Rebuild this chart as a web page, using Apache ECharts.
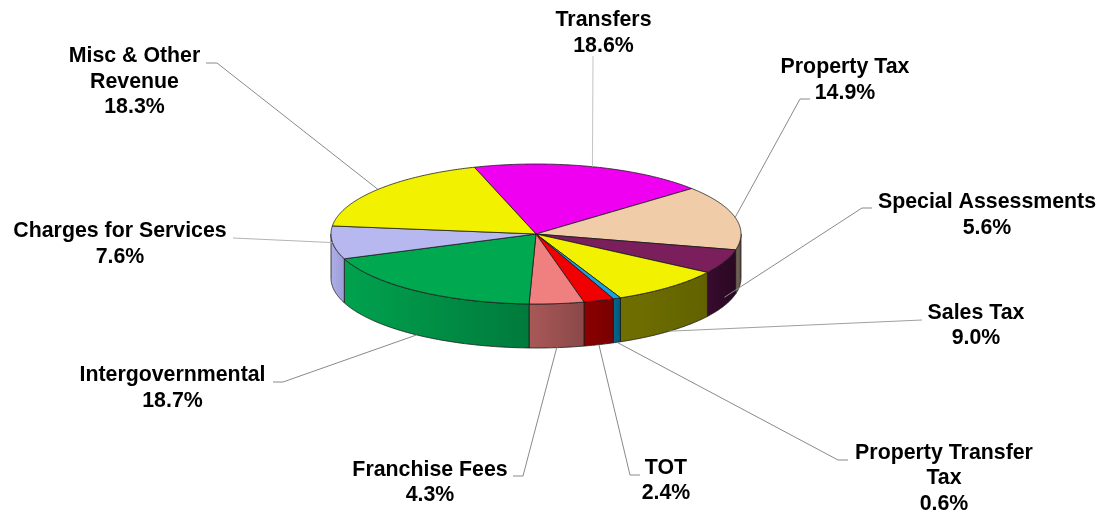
<!DOCTYPE html>
<html>
<head>
<meta charset="utf-8">
<script src="https://cdn.jsdelivr.net/npm/echarts@6/dist/echarts.min.js"></script>
<style>
html,body{margin:0;padding:0;background:#fff;}
#chart{width:1101px;height:512px;}
</style>
</head>
<body>
<div id="chart"></div>
<script>
// ---- data ----
const categories = ['Transfers','Property Tax','Special Assessments','Sales Tax','Property Transfer Tax','TOT','Franchise Fees','Intergovernmental','Charges for Services','Misc & Other Revenue'];
const values = [18.6, 14.9, 5.6, 9.0, 0.6, 2.4, 4.3, 18.7, 7.6, 18.3];
const labelNames = ['Transfers','Property Tax','Special Assessments','Sales Tax','Property Transfer\nTax','TOT','Franchise Fees','Intergovernmental','Charges for Services','Misc & Other\nRevenue'];

// ---- styles / layout ----
const topColors = ['#F000F0','#F0CCA8','#7A1E5C','#F2F200','#18A0E0','#F00000','#F08080','#00A850','#B8B8F0','#F2F200'];
const sideColors = [
  ['#a000a0','#800080'],
  ['#7d6d5c','#5a4c42'],
  ['#380b2e','#2a0822'],
  ['#707000','#626200'],
  ['#006890','#005878'],
  ['#8c0000','#780000'],
  ['#AA5858','#8A4848'],
  ['#00A24E','#007A3C'],
  ['#AEAEE8','#9C9CD8'],
  ['#c8c800','#a8a800']
];
const leaderColors = ['#c4c4c4','#8a8a8a','#8a8a8a','#a0a0a0','#8a8a8a','#8a8a8a','#8a8a8a','#8a8a8a','#b4b4b4','#8a8a8a'];
const labelCenters = [[603.5,33],[845,80],[987,215],[976,325.5],[944,478.5],[666,480.5],[430,482.5],[172.5,388],[120,244],[134.5,82]];
const leaderFrom = [
  [[593,56]],
  [[810,99],[800,99]],
  [[872,208],[862,208]],
  [[922,320]],
  [[848,460],[838,460]],
  [[640,475],[630,475]],
  [[513,476],[523,476]],
  [[273,382],[283,382]],
  [[233,238]],
  [[206,63],[217,63]]
];

const CX = 536, CY = 234, RX = 205, RY = 70, DEPTH = 44, START = 107.5;
const total = values.reduce((a,b)=>a+b,0);
const cum = [];
values.reduce((acc,v,i)=>{cum[i]=acc;return acc+v;},0);

function P(t, dy){
  const r = t*Math.PI/180;
  return [CX + RX*Math.cos(r), CY - RY*Math.sin(r) + (dy||0)];
}
function arcPts(a, b, dy){
  const pts = [];
  const n = Math.max(2, Math.ceil(Math.abs(a-b)/0.5));
  for(let k=0;k<=n;k++){ pts.push(P(a + (b-a)*k/n, dy)); }
  return pts;
}

function renderItem(params, api){
  const i = params.dataIndex;
  const v = api.value(0);
  const t1 = START - cum[i]/total*360;
  const t2 = t1 - v/total*360;
  const children = [];
  const a = Math.min(t1, 0), b = Math.max(t2, -180);
  if (a > b){
    const topEdge = arcPts(a, b, 0);
    const botEdge = arcPts(b, a, DEPTH);
    const xa = P(a)[0], xb = P(b)[0];
    children.push({
      type:'polygon', z2: 1,
      shape:{points: topEdge.concat(botEdge)},
      style:{
        fill:{type:'linear', global:true, x:Math.min(xa,xb), y:0, x2:Math.max(xa,xb), y2:0,
          colorStops:[{offset:0,color:sideColors[i][0]},{offset:1,color:sideColors[i][1]}]},
        stroke:'#1a1a1a', lineWidth:0.8, lineJoin:'round'
      }
    });
  }
  children.push({
    type:'polygon', z2: 5,
    shape:{points: [[CX,CY]].concat(arcPts(t1, t2, 0))},
    style:{fill: topColors[i], stroke:'#1a1a1a', lineWidth:0.8, lineJoin:'round'}
  });
  const mid = (t1+t2)/2;
  const s = -Math.sin(mid*Math.PI/180);
  const f = Math.max(0, Math.min(1, (s-0.15)/0.3));
  const anchor = P(mid, DEPTH*f);
  children.push({
    type:'polyline', z2: 8,
    shape:{points: leaderFrom[i].concat([anchor])},
    style:{stroke:leaderColors[i], lineWidth:1, fill:null}
  });
  const pct = (v/total*100).toFixed(1) + '%';
  children.push({
    type:'text', z2: 10,
    x: labelCenters[i][0], y: labelCenters[i][1],
    style:{
      text: labelNames[i] + '\n' + pct,
      align:'center', verticalAlign:'middle',
      fontFamily:'"Liberation Sans", Arial, sans-serif',
      fontWeight:'bold', fontSize:21.33, lineHeight:25.5,
      fill:'#000'
    }
  });
  return {type:'group', children};
}

const chart = echarts.init(document.getElementById('chart'), null, {renderer:'canvas'});
chart.setOption({
  backgroundColor:'#ffffff',
  animation:false,
  series:[{
    type:'custom',
    coordinateSystem:'none',
    renderItem: renderItem,
    data: values.map((v,i)=>({name: categories[i], value:[v]}))
  }]
});
</script>
</body>
</html>
